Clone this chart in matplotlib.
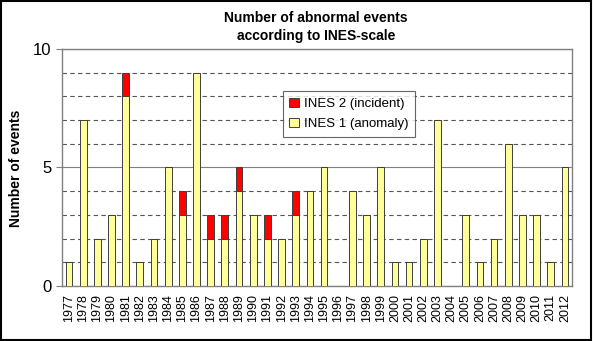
import numpy as np
import matplotlib.pyplot as plt
from matplotlib.patches import Rectangle

plt.rcParams['font.family'] = ['Liberation Sans', 'DejaVu Sans']

years = [str(y) for y in range(1977, 2013)]
ines1 = [1, 7, 2, 3, 8, 1, 2, 5, 3, 9, 2, 2, 4, 3, 2, 2, 3, 4, 5, 0,
         4, 3, 5, 1, 1, 2, 7, 0, 3, 1, 2, 6, 3, 3, 1, 5]
ines2 = [0, 0, 0, 0, 1, 0, 0, 0, 1, 0, 1, 1, 1, 0, 1, 0, 1, 0, 0, 0,
         0, 0, 0, 0, 0, 0, 0, 0, 0, 0, 0, 0, 0, 0, 0, 0]

fig = plt.figure(figsize=(5.93, 3.41), dpi=100)
ax = fig.add_axes([0.1045, 0.1613, 0.8601, 0.695])

x = np.arange(len(years))
b1 = ax.bar(x, ines1, width=0.48, color='#FFFF99', edgecolor='#404040',
            linewidth=0.7, label='INES 1 (anomaly)', zorder=3)
b2 = ax.bar(x, ines2, width=0.48, bottom=ines1, color='#FF0000',
            edgecolor='#404040', linewidth=0.7, label='INES 2 (incident)', zorder=3)

ax.set_xlim(-0.5, len(years) - 0.5)
ax.set_ylim(0, 10)
ax.set_yticks([0, 5, 10])
ax.set_yticks([1, 2, 3, 4, 6, 7, 8, 9], minor=True)
ax.tick_params(axis='y', which='minor', length=0)
ax.tick_params(axis='y', which='major', labelsize=12, length=4, color='#808080')
ax.grid(axis='y', which='minor', color='#555555', linestyle=(0, (4, 3)), linewidth=0.8, zorder=1)
ax.grid(axis='y', which='major', color='#808080', linestyle='-', linewidth=0.8, zorder=1)

ax.set_xticks(x)
ax.set_xticklabels(years, rotation=90, fontsize=9)
ax.tick_params(axis='x', length=0, pad=6)

for s in ax.spines.values():
    s.set_color('#808080')
    s.set_linewidth(1.0)

fig.text(0.027, 0.507, 'Number of events', rotation=90, ha='center', va='center',
         fontsize=10, fontweight='bold')
fig.text(0.533, 0.92, 'Number of abnormal events\naccording to INES-scale',
         ha='center', va='center', fontsize=10, fontweight='bold', linespacing=1.35)

leg = ax.legend(handles=[b2, b1], loc='upper left', bbox_to_anchor=(0.42, 0.85),
                fontsize=9.5, frameon=True, fancybox=False, edgecolor='#404040',
                handlelength=0.7, handleheight=0.7, handletextpad=0.4,
                borderpad=0.5, labelspacing=0.6)
leg.get_frame().set_linewidth(0.8)

fig.patches.append(Rectangle((0.002, 0.003), 0.995, 0.993, transform=fig.transFigure,
                             fill=False, edgecolor='black', linewidth=1.5))

fig.savefig('out.png', dpi=100)
